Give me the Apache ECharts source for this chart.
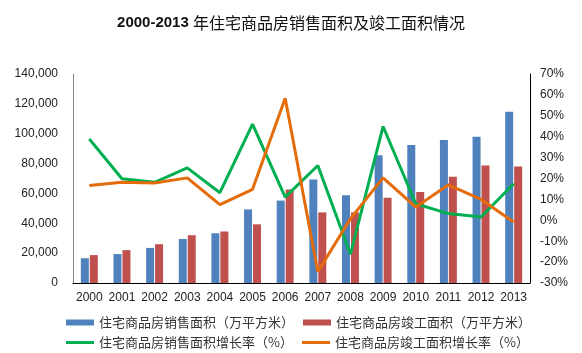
<!DOCTYPE html>
<html>
<head>
<meta charset="utf-8">
<script src="https://cdn.jsdelivr.net/npm/echarts@6/dist/echarts.min.js"></script>
<style>
  html, body { margin: 0; padding: 0; background: #fff; }
  #chart { width: 582px; height: 353px; }
</style>
</head>
<body>
<div id="chart"></div>
<script>
// 2000-2013 住宅商品房销售面积 / 竣工面积 及增长率

const years = ['2000', '2001', '2002', '2003', '2004', '2005', '2006',
  '2007', '2008', '2009', '2010', '2011', '2012', '2013'];

// 万平方米
const salesArea = [16600, 19400, 23500, 29500, 33300, 49300, 55200,
  69300, 58700, 85500, 92400, 95800, 98000, 114700];
const completedArea = [18700, 22000, 26000, 32000, 34500, 39300, 62700,
  47300, 47300, 57100, 60900, 71100, 78700, 78000];

// %
const salesGrowth = [38.9, 19.9, 18.2, 25.1, 13.2, 46.0, 11.1,
  26.2, -16.2, 44.9, 7.9, 3.2, 1.6, 17.5];
const completedGrowth = [16.7, 18.2, 17.8, 20.3, 7.5, 14.8, 58.4,
  -24.6, 0.8, 20.3, 6.3, 17.0, 10.0, -0.8];

const names = [
  '住宅商品房销售面积（万平方米）',
  '住宅商品房竣工面积（万平方米）',
  '住宅商品房销售面积增长率（%）',
  '住宅商品房竣工面积增长率（%）'
];

const labelFont = {
  color: '#222',
  fontSize: 12,
  fontFamily: 'Liberation Sans, Arial, sans-serif'
};

const legendText = {
  fontSize: 13,
  color: '#333',
  fontFamily: 'Noto Sans CJK SC, sans-serif'
};

const myChart = echarts.init(document.getElementById('chart'));

const option = {
  animation: false,
  title: {
    text: '{a|2000-2013 }{b|年住宅商品房销售面积及竣工面积情况}',
    left: 'center',
    top: 10,
    textStyle: {
      rich: {
        a: {
          fontFamily: 'Liberation Sans, Arial, sans-serif',
          fontWeight: 'bold',
          fontSize: 15,
          color: '#111'
        },
        b: {
          fontFamily: 'Noto Sans CJK SC, sans-serif',
          fontWeight: 'normal',
          fontSize: 16,
          color: '#111'
        }
      }
    }
  },
  grid: {
    left: 73,
    right: 52,
    top: 74,
    bottom: 70
  },
  legend: [
    {
      data: [names[0], names[1]],
      left: 61,
      top: 311,
      icon: 'rect',
      itemWidth: 28,
      itemHeight: 6,
      itemGap: 9,
      textStyle: legendText
    },
    {
      data: [names[2], names[3]],
      left: 61,
      top: 331,
      icon: 'rect',
      itemWidth: 28,
      itemHeight: 3,
      itemGap: 9,
      textStyle: legendText
    }
  ],
  xAxis: {
    type: 'category',
    data: years,
    axisLine: { lineStyle: { color: '#000', width: 1 } },
    axisTick: { show: false },
    axisLabel: Object.assign({ margin: 9, interval: 0 }, labelFont)
  },
  yAxis: [
    {
      type: 'value',
      min: 0,
      max: 140000,
      interval: 20000,
      position: 'left',
      splitLine: { show: false },
      axisLine: { show: true, lineStyle: { color: '#888' } },
      axisTick: { show: false },
      axisLabel: Object.assign({
        margin: 15,
        formatter: function (v) {
          return v.toLocaleString('en-US');
        }
      }, labelFont)
    },
    {
      type: 'value',
      min: -30,
      max: 70,
      interval: 10,
      position: 'right',
      splitLine: { show: false },
      axisLine: { show: true, lineStyle: { color: '#000' } },
      axisTick: { show: false },
      axisLabel: Object.assign({
        margin: 10,
        formatter: '{value}%'
      }, labelFont)
    }
  ],
  series: [
    {
      name: names[0],
      type: 'bar',
      data: salesArea,
      barWidth: 8,
      barGap: '12%',
      itemStyle: { color: '#4F81BD' }
    },
    {
      name: names[1],
      type: 'bar',
      data: completedArea,
      barWidth: 8,
      itemStyle: { color: '#C0504D' }
    },
    {
      name: names[2],
      type: 'line',
      yAxisIndex: 1,
      data: salesGrowth,
      symbol: 'none',
      lineStyle: { color: '#00B050', width: 3 },
      itemStyle: { color: '#00B050' }
    },
    {
      name: names[3],
      type: 'line',
      yAxisIndex: 1,
      data: completedGrowth,
      symbol: 'none',
      lineStyle: { color: '#E46C0A', width: 3 },
      itemStyle: { color: '#E46C0A' }
    }
  ]
};

myChart.setOption(option);
</script>
</body>
</html>
